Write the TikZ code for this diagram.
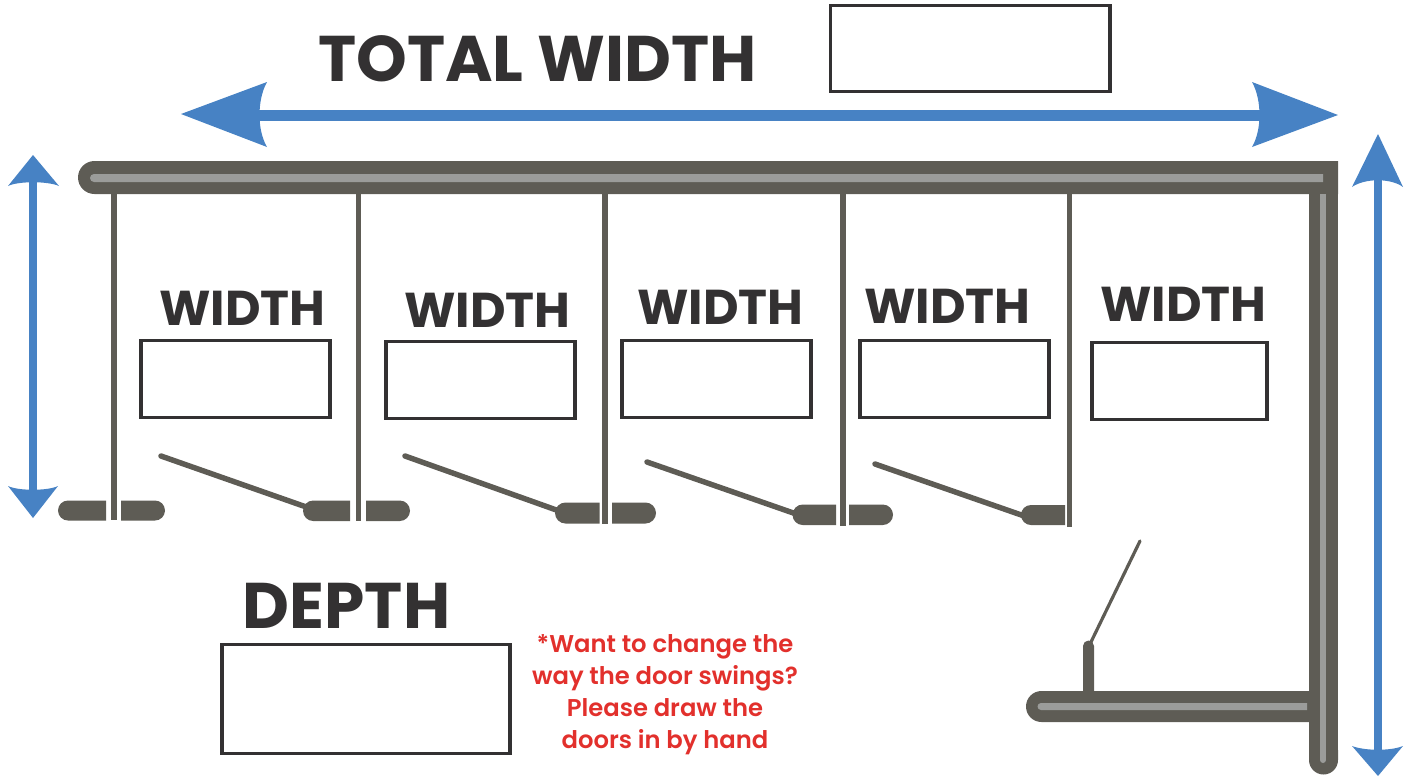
\documentclass[tikz,border=0pt]{standalone}
\usepackage{fontspec}
\setmainfont{Poppins}[BoldFont=* Bold]
\newfontfamily\semib{Poppins SemiBold}
\definecolor{wallc}{HTML}{5E5C55}
\definecolor{innerc}{HTML}{9B9C9A}
\definecolor{bluec}{HTML}{4782C4}
\definecolor{inkc}{HTML}{333132}
\definecolor{redc}{HTML}{E2302C}
\tikzset{
  x=0.75pt,y=-0.75pt,
  wall/.style={fill=wallc,draw=none},
  inner/.style={fill=innerc,draw=none},
  blueshape/.style={fill=bluec,draw=none},
  partition/.style={draw=wallc,line width=4.2pt},
  doorleaf/.style={draw=wallc,line width=4.1pt,line cap=round},
  inputbox/.style={draw=inkc,line width=2.6pt,fill=white,inner sep=0pt,outer sep=0pt,anchor=north west},
  widthlabel/.style={font=\bfseries\fontsize{36.7}{36.7}\selectfont,text=inkc,anchor=base west,inner sep=0pt},
  biglabel/.style={font=\bfseries\fontsize{48.4}{48.4}\selectfont,text=inkc,anchor=base west,inner sep=0pt},
  redlabel/.style={font=\semib\fontsize{18.2}{18.2}\selectfont,text=redc,anchor=base,inner sep=0pt},
}
\begin{document}
\begin{tikzpicture}
\useasboundingbox (0,0) rectangle (1411,776);
% arrows
\fill[blueshape] (250,109.5) rectangle (1270,120.5);
\fill[blueshape] (181,114) -- (267,82) .. controls (257,100) and (257,130) .. (267,147) -- cycle;
\fill[blueshape] (1338,115) -- (1252,82) .. controls (1262,100) and (1262,130) .. (1252,147) -- cycle;
\fill[blueshape] (29,178) rectangle (37,495);
\fill[blueshape] (33,155) -- (8,186) .. controls (18,181) and (48,181) .. (59,186) -- cycle;
\fill[blueshape] (33,518) -- (8,486) .. controls (18,491) and (48,491) .. (58,486) -- cycle;
\fill[blueshape] (1374,178) rectangle (1382,755);
\fill[blueshape] (1378,134) -- (1352,187) .. controls (1365,178) and (1391,178) .. (1403,187) -- cycle;
\fill[blueshape] (1378,776) -- (1352,746) .. controls (1365,751) and (1391,751) .. (1403,746) -- cycle;
% partitions
\foreach \px/\py in {114/520,358.5/521,604.7/524,843/525.5,1069.5/527}
  \draw[partition] (\px,190) -- (\px,\py);
% walls
\fill[wall] (94.5,161) -- (1338,161) -- (1338,194) -- (94.5,194) arc[start angle=90,end angle=270,radius=16.5] -- cycle;
\fill[wall] (1309,161) rectangle (1338,760);
\fill[wall] (1309,760) arc[start angle=180,end angle=0,radius=14.5] -- (1338,750) -- (1309,750) -- cycle;
\fill[wall] (1041.5,691) -- (1309,691) -- (1309,722) -- (1041.5,722) arc[start angle=90,end angle=270,radius=15.5] -- cycle;
\fill[wall] (1083,691) -- (1083,646) arc[start angle=180,end angle=360,radius=5.5] -- (1094,691) -- cycle;
\fill[inner] (1323,174) -- (94,174) arc[start angle=270,end angle=90,radius=4] -- (1323,182) -- cycle;
\fill[inner] (1320,194) rectangle (1326,760);
\fill[inner] (1320,760) arc[start angle=180,end angle=0,radius=3] -- cycle;
\fill[inner] (1307,703) -- (1041,703) arc[start angle=270,end angle=90,radius=3.5] -- (1307,710) -- cycle;
\draw[wallc,line width=2.4pt,line cap=round] (1091,642) -- (1140,541);
% door leaves
\draw[doorleaf] (161,456) -- (312,509);
\draw[doorleaf] (405,456) -- (562,512);
\draw[doorleaf] (647,462) -- (802,516);
\draw[doorleaf] (875,464) -- (1030,518);
% stubs
\foreach \xa/\xb/\xc/\xd/\ya/\yb in {58/106/121/165/500.5/520.5, 303/350/366/410/500.5/521, 555/599.5/612/656/502.5/523.5, 792.5/836/849/893/504.5/525}{
  \pgfmathsetmacro{\rr}{(\yb-\ya)/2}
  \fill[wall] (\xb,\ya) -- ({\xa+\rr},\ya) arc[start angle=270,end angle=90,radius=\rr] -- (\xb,\yb) -- cycle;
  \fill[wall] (\xc,\ya) -- ({\xd-\rr},\ya) arc[start angle=-90,end angle=90,radius=\rr] -- (\xc,\yb) -- cycle;
}
\fill[wall] (1065,505) -- (1031,505) arc[start angle=270,end angle=90,radius=10] -- (1065,525) -- cycle;
% boxes
\node[inputbox,minimum width=209.75pt,minimum height=64.5pt] (totalbox) at (830.5,5.5) {};
\node[inputbox,minimum width=141.75pt,minimum height=58pt] (box1) at (141.2,340.3) {};
\node[inputbox,minimum width=141.75pt,minimum height=58pt] (box2) at (386.2,341.3) {};
\node[inputbox,minimum width=141.75pt,minimum height=58pt] (box3) at (622.2,340.3) {};
\node[inputbox,minimum width=141.75pt,minimum height=58pt] (box4) at (860.2,340.3) {};
\node[inputbox,minimum width=131.25pt,minimum height=58pt] (box5) at (1092.2,342.3) {};
\node[inputbox,minimum width=216pt,minimum height=82pt] (depthbox) at (222.2,644.3) {};
% labels
\node[biglabel] (total) at (318,81) {TOTAL WIDTH};
\node[biglabel] (depth) at (242.5,628) {DEPTH};
\node[widthlabel] (w1) at (159,325.5) {WIDTH};
\node[widthlabel] (w2) at (404,327.5) {WIDTH};
\node[widthlabel] (w3) at (637,324.5) {WIDTH};
\node[widthlabel] (w4) at (864,323.5) {WIDTH};
\node[widthlabel] (w5) at (1100,321.5) {WIDTH};
\node[redlabel] (r1) at (665,652) {*Want to change the};
\node[redlabel] (r2) at (665,684) {way the door swings?};
\node[redlabel] (r3) at (665,716) {Please draw the};
\node[redlabel] (r4) at (665,748) {doors in by hand};
\end{tikzpicture}
\end{document}
